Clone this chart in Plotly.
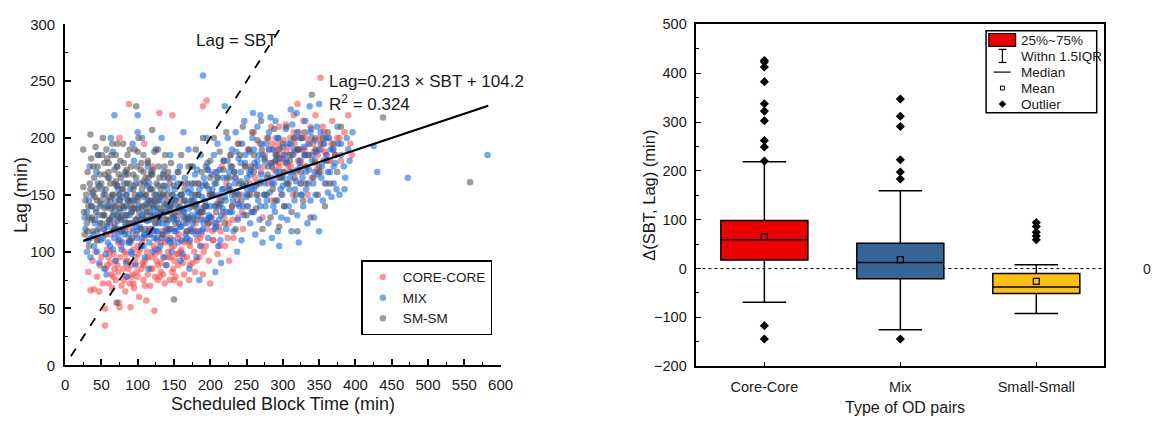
import plotly.graph_objects as go

W, H = 1157, 429
def px(x): return x / W
def py(y): return 1 - y / H

# ---------------- scatter data (SBT, Lag) ----------------
core_sbt = [32,35,38,40,42,44,45,47,48,50,52,53,55,55,56,58,60,62,63,64,65,67,68,70,72,73,74,75,75,71,
            76,78,79,80,82,83,84,85,86,88,88,89,90,90,92,93,94,95,96,97,98,100,101,102,104,105,106,108,109,110,111,112,113,114,116,117,118,119,120,121,122,123,124,125,
            126,127,128,130,130,131,132,134,135,136,137,138,140,141,142,143,144,145,146,148,148,149,150,151,152,154,155,156,157,158,160,161,162,163,164,166,167,168,170,171,172,174,175,
            176,178,179,180,182,183,185,187,188,190,190,192,194,195,196,198,200,200,202,204,206,208,210,212,214,216,218,220,222,225,228,230,232,235,238,240,242,245,248,250,226,
            252,255,258,260,262,265,268,270,272,275,278,280,282,284,285,287,288,290,291,292,294,295,296,298,300,301,302,304,305,306,308,310,312,314,315,316,318,320,321,322,324,326,328,330,332,334,335,338,340,342,344,345,348,350,352,352,355,358,360,362,365,368,370,375,380,385,390,393,395,
            58,62,66,69,73,77,81,84,87,91,94,97,99,103,107,110,114,118,121,124,128,132,135,139,143,147,151,155,159,163,167,171,176,181,186,191,197,203,208,213,219,224,231,237,244,253,262,274,281,286,293,297,303,307,311,317,323,327,331,337,343,347,353,357,363,367,372,378,
            60,68,76,84,92,100,108,116,124,132,140,148,156,164,172,180,188,196,204,212,70,90,110,130,150,170,190,285,300,315,330,345,360,295,325,355]
core_lag = [82,66,92,67,100,78,110,65,88,95,72,120,50,35,85,102,72,90,115,80,68,98,125,75,88,108,55,200,51,140,
            95,70,118,85,100,65,132,78,92,230,110,72,51,88,125,80,102,68,140,90,115,78,98,60,120,85,108,75,195,92,130,57,100,80,115,70,145,95,85,175,105,48,78,125,
            92,110,75,222,100,135,82,118,95,150,72,108,88,128,100,165,75,112,95,220,140,85,105,120,78,98,132,88,115,72,102,145,90,125,80,110,160,95,130,75,105,118,90,
            140,100,82,125,110,160,95,130,115,228,80,140,105,233,120,92,150,72,130,110,170,125,98,145,118,175,135,105,160,125,185,140,112,165,130,195,150,120,175,140,92,
            190,160,135,205,175,150,195,170,130,185,200,160,178,210,145,190,172,200,185,165,178,210,190,150,182,198,170,212,188,160,175,200,185,150,220,195,170,230,180,205,160,190,215,175,200,150,185,210,165,195,178,220,185,200,253,170,210,188,160,200,180,215,190,200,180,205,220,195,185,
            88,100,78,92,82,105,75,98,85,108,72,95,82,102,90,112,95,85,118,98,88,108,80,118,95,105,92,112,100,95,118,108,120,92,112,100,125,118,140,105,130,112,128,145,135,150,165,175,190,178,195,182,178,192,175,188,178,200,185,195,188,172,190,205,180,195,185,200,
            95,85,110,92,78,105,88,120,102,90,112,82,98,108,88,118,105,128,110,122,118,120,70,78,75,128,135,195,185,205,190,200,185,175,180,195]

mix_sbt = [28,30,32,33,35,36,38,40,42,44,45,47,48,50,30,34,46,27,39,43,
           52,53,55,56,58,60,61,62,64,65,66,68,69,70,72,73,74,75,57,63,71,54,
           76,78,79,80,82,83,84,86,87,88,90,91,92,94,95,96,98,99,100,100,85,93,97,81,
           101,103,104,105,107,108,109,110,112,113,114,116,117,118,120,121,122,124,125,106,115,119,123,
           126,127,128,130,131,132,134,135,136,137,138,140,141,142,144,145,146,147,148,150,133,139,149,
           151,152,154,155,156,157,158,160,161,162,164,165,166,168,169,170,172,173,174,175,163,171,159,
           176,178,179,180,182,183,184,186,187,188,190,190,191,193,194,196,197,198,200,185,195,181,
           201,202,204,205,206,208,209,210,212,213,214,216,217,218,220,220,222,223,224,215,207,211,
           226,227,228,230,231,232,234,235,236,238,239,240,242,243,244,245,246,248,250,237,247,
           251,252,254,255,256,257,258,260,261,262,264,265,266,267,268,270,271,272,274,275,259,269,
           276,277,278,280,281,282,284,285,286,288,289,290,291,292,294,295,296,297,298,300,293,283,
           301,302,304,305,306,308,309,310,312,313,314,316,317,318,320,321,322,324,325,311,319,
           326,327,328,330,331,332,334,335,336,338,339,340,342,343,344,345,346,348,350,350,337,
           352,354,355,357,358,360,362,364,365,367,369,370,372,374,376,378,380,384,388,392,396,386,
           425,430,472,582,
           35,37,41,44,46,49,51,54,57,59,61,63,66,67,69,71,73,76,77,79,81,83,85,87,89,91,93,95,97,99,
           102,104,106,108,110,111,113,115,117,119,121,123,125,127,129,131,133,135,137,139,141,143,145,147,149,
           151,153,155,157,159,161,163,165,167,169,171,173,175,177,179,181,183,185,187,189,191,193,195,197,199,
           203,206,209,212,215,218,221,224,227,230,233,236,239,242,245,248,251,254,257,260,263,266,269,272,275,278,
           281,284,287,290,293,296,299,302,305,308,311,314,317,320,323,326,329,332,335,338,341,344,347,350,353,356,359,362,366,370,375,380,385,390,
           62,65,68,72,75,78,82,86,90,94,98,102,106,110,114,118,122,126,130,134,138,142,146,150,154,158,162,166,170,174,
           178,182,186,190,194,198,202,206,210,214,218,222,226,230,234,238,242,246,250,255,260,265,270,275,280,285,290,295,300,305,
           310,315,320,325,330,88,108,128,148,168,188,208,116,136,156,176,196]
mix_lag = [120,135,110,145,95,128,150,105,138,118,160,90,125,142,100,175,185,130,115,170,
           112,132,150,98,122,140,165,105,130,118,188,220,145,92,127,155,110,138,80,200,175,85,
           120,102,148,132,115,168,90,140,125,108,155,135,98,118,180,145,128,112,205,220,78,195,88,160,
           138,122,150,105,130,162,115,95,142,127,175,108,135,155,120,100,145,132,190,200,85,168,112,
           140,118,158,128,105,148,135,115,170,95,142,125,155,110,138,185,120,100,150,132,200,88,165,
           118,145,128,160,108,138,175,122,150,98,135,165,115,142,128,190,110,155,132,145,205,85,92,
           125,160,140,115,172,132,150,105,185,138,255,120,165,145,128,178,112,155,140,75,200,95,
           130,168,150,185,120,160,142,195,128,172,110,155,138,180,228,148,120,165,200,90,82,105,
           158,135,175,190,145,118,165,205,152,128,182,140,170,110,195,158,132,178,150,100,215,
           165,140,188,125,172,155,200,135,178,115,160,210,145,185,128,168,195,108,150,180,222,220,
           140,195,165,125,205,152,178,112,190,160,135,215,170,145,200,105,182,155,130,192,118,218,
           165,140,208,178,128,195,155,170,118,212,185,145,200,162,132,190,108,175,150,225,222,
           200,165,140,185,215,155,125,195,172,145,208,180,160,130,198,150,188,168,118,230,228,
           205,175,145,195,160,185,152,200,170,148,190,160,178,155,195,150,185,175,200,180,205,165,
           193,170,165,185,
           112,140,125,100,132,110,155,120,140,108,128,148,102,135,122,158,115,145,130,108,138,122,150,115,132,100,145,125,160,118,
           140,128,112,148,135,120,158,128,115,142,130,150,118,135,125,145,112,132,158,120,140,128,108,145,130,
           155,118,140,125,150,110,135,145,125,160,138,120,150,130,168,142,118,155,135,148,125,160,140,172,130,
           155,140,170,150,132,165,145,180,155,135,170,188,150,162,140,185,155,170,135,190,158,175,140,185,160,145,
           190,165,140,180,200,165,150,185,160,140,195,170,155,205,180,150,192,170,160,205,185,170,210,190,165,180,200,170,190,175,210,195,155,190,
           125,140,112,132,150,118,128,145,110,138,122,150,132,115,145,128,138,112,150,125,135,118,142,128,148,122,138,130,152,118,
           145,135,128,158,140,132,150,125,165,142,155,135,170,150,160,142,178,158,148,168,155,180,162,150,175,160,185,170,158,180,
           165,190,172,160,185,108,105,102,110,112,118,122,160,165,170,175,172]

sm_sbt = [25,25,26,27,28,30,31,32,33,35,35,36,37,38,40,41,42,43,44,45,47,48,50,51,52,53,54,55,56,57,58,60,61,62,63,65,66,67,68,69,70,71,72,73,74,75,
          76,77,78,80,81,82,83,84,85,86,88,89,90,91,92,94,95,96,97,98,98,100,101,102,104,105,106,108,109,110,111,112,114,115,116,118,119,120,120,122,123,124,126,128,129,130,132,133,135,136,138,139,140,142,143,145,146,148,150,150,
          152,155,158,160,163,165,168,170,173,175,178,180,183,185,188,190,193,195,198,200,203,205,208,210,213,215,218,220,222,225,228,230,233,235,238,240,243,245,248,250,253,255,258,260,263,265,268,270,272,275,278,280,283,285,288,290,292,295,298,300,302,305,308,310,312,315,318,320,322,325,328,330,332,335,338,340,340,342,345,348,350,355,358,360,365,370,375,380,438,558,
          29,31,34,36,39,41,43,46,48,49,52,54,56,58,59,62,64,66,68,70,72,74,77,79,81,83,85,87,89,92,94,96,99,101,103,106,108,110,113,115,117,121,124,127,130,134,137,141,144,147,
          152,156,160,164,169,174,179,184,189,194,199,206,212,219,226,234,241,249,256,264,271,279,286,294,301,309,316,324,333,344,352,362,372,
          32,38,44,50,55,60,65,70,75,80,85,90,95,100,105,110,115,120,125,130,135,140,45,58,72,86,100,114,128,142,160,180,200,230,260,290,320,350]
sm_lag = [190,157,135,115,145,125,170,140,105,203,155,182,130,118,165,148,192,135,110,175,158,140,125,185,200,150,132,168,115,190,145,178,128,160,138,195,150,120,172,140,185,55,158,130,168,145,
          180,128,155,195,140,118,170,150,132,185,160,125,145,175,112,155,138,190,128,228,165,148,200,135,172,120,155,185,140,128,165,150,180,118,145,170,132,207,155,140,188,125,160,145,175,130,155,115,168,140,185,128,150,165,120,140,178,132,58,158,
          125,170,140,185,130,155,118,175,145,160,128,190,150,135,170,200,140,158,125,180,150,200,135,165,188,145,172,125,205,155,185,140,170,120,195,160,145,210,175,132,190,150,205,170,138,198,160,215,120,182,150,200,130,175,208,145,185,122,165,195,140,210,160,180,135,200,150,118,190,170,145,205,160,185,130,238,200,165,190,150,175,200,140,180,160,195,170,210,218,161,
          150,118,160,140,175,128,155,120,168,145,132,178,155,125,165,145,185,132,160,120,175,150,165,140,178,125,160,145,190,135,168,150,175,130,160,140,170,150,135,165,155,172,145,130,165,150,175,135,160,150,
          145,135,160,145,130,175,150,160,135,175,150,160,140,180,165,150,185,160,175,150,190,168,155,190,170,185,165,200,175,180,195,205,185,
          130,152,145,160,138,170,150,162,135,155,172,140,158,145,178,160,140,168,150,138,158,145,185,182,195,168,188,178,190,170,150,140,165,175,185,180,190,170]

# fitted line and identity line
ident_x = [8, 298]
ident_y = [8, 298]
fit_x = [25, 583]
fit_y = [109.5, 228.4]

# ---------------- box plot statistics ----------------
box_cats = ["Core-Core", "Mix", "Small-Small"]
box_q1 = [17.6, -21.0, -51.2]
box_median = [59.0, 12.4, -37.5]
box_q3 = [98.2, 51.7, -9.9]
box_low = [-68.9, -125.3, -91.9]
box_high = [218.8, 159.2, 7.8]
box_mean = [64.8, 18.3, -26.3]
box_colors = ["#ee0000", "#346798", "#fdc010"]
outliers_core = [425.9, 422.7, 412.8, 382.7, 337.5, 322.4, 302.7, 262.1, 249.0, 220.1, -116.8, -144.3]
outliers_mix = [347.3, 311.9, 290.9, 222.8, 197.8, 183.4, -144.3]
outliers_small = [94.3, 86.4, 74.6, 66.8, 58.9]

FONT = "Liberation Sans, Arial, sans-serif"
TXT = "#1a1a1a"

fig = go.Figure()

mk = dict(size=6.5, opacity=0.58, line=dict(width=0))
fig.add_trace(go.Scatter(x=core_sbt, y=core_lag, mode="markers", name="CORE-CORE",
                         marker=dict(color="rgb(250,75,75)", **mk), xaxis="x", yaxis="y", legend="legend"))
fig.add_trace(go.Scatter(x=mix_sbt, y=mix_lag, mode="markers", name="MIX",
                         marker=dict(color="rgb(20,105,220)", **mk), xaxis="x", yaxis="y", legend="legend"))
fig.add_trace(go.Scatter(x=sm_sbt, y=sm_lag, mode="markers", name="SM-SM",
                         marker=dict(color="rgb(85,85,85)", **mk), xaxis="x", yaxis="y", legend="legend"))
fig.add_trace(go.Scatter(x=ident_x, y=ident_y, mode="lines", showlegend=False,
                         line=dict(color="black", width=1.8, dash="dash"), xaxis="x", yaxis="y"))
fig.add_trace(go.Scatter(x=fit_x, y=fit_y, mode="lines", showlegend=False,
                         line=dict(color="black", width=2.2), xaxis="x", yaxis="y"))

for i, c in enumerate(box_cats):
    fig.add_trace(go.Box(x=[c], q1=[box_q1[i]], median=[box_median[i]], q3=[box_q3[i]],
                         lowerfence=[box_low[i]], upperfence=[box_high[i]],
                         fillcolor=box_colors[i], line=dict(color="black", width=1.5),
                         width=0.64, whiskerwidth=0.5, boxpoints=False, showlegend=False,
                         xaxis="x2", yaxis="y2"))

outs = [outliers_core, outliers_mix, outliers_small]
for i, c in enumerate(box_cats):
    fig.add_trace(go.Scatter(x=[c] * len(outs[i]), y=outs[i], mode="markers", showlegend=False,
                             marker=dict(symbol="diamond", size=7, color="black"),
                             xaxis="x2", yaxis="y2"))
fig.add_trace(go.Scatter(x=box_cats, y=box_mean, mode="markers", showlegend=False,
                         marker=dict(symbol="square-open", size=6, color="black", line=dict(width=1.2)),
                         xaxis="x2", yaxis="y2"))

axis_common = dict(showline=True, linecolor="black", showgrid=False, zeroline=False,
                   ticks="inside", tickcolor="black", tickfont=dict(size=15, color=TXT, family=FONT))
right_font = dict(size=14.5, color=TXT, family=FONT)

fig.update_layout(
    width=W, height=H, margin=dict(l=0, r=0, t=0, b=0),
    paper_bgcolor="white", plot_bgcolor="white",
    font=dict(family=FONT, color=TXT),
    xaxis=dict(domain=[px(62), px(504)], range=[0, 600], dtick=50, ticklen=6, tickwidth=1.5, linewidth=1.8,
               minor=dict(dtick=25, ticklen=3, ticks="inside", tickcolor="black", tickwidth=1.2),
               ticklabelstandoff=5, **axis_common),
    yaxis=dict(domain=[py(371), py(16)], range=[0, 300], dtick=50, ticklen=6, tickwidth=1.5, linewidth=1.8,
               minor=dict(dtick=25, ticklen=3, ticks="inside", tickcolor="black", tickwidth=1.2),
               ticklabelstandoff=5, **axis_common),
    xaxis2=dict(domain=[px(702.7), px(1116.7)], range=[-0.5, 2.5], type="category",
                categoryorder="array", categoryarray=box_cats, ticklen=5, tickwidth=1.2, linewidth=1.5,
                mirror=True, anchor="y2", ticklabelstandoff=7, **{**axis_common, "tickfont": right_font}),
    yaxis2=dict(domain=[py(372), py(16)], range=[-200, 500], dtick=100, ticklen=5, tickwidth=1.2, linewidth=1.5,
                minor=dict(dtick=50, ticklen=3, ticks="inside", tickcolor="black", tickwidth=1.2),
                mirror=True, anchor="x2", ticklabelstandoff=5, **{**axis_common, "tickfont": right_font}),
    legend=dict(x=px(362.7), y=py(261.7), xanchor="left", yanchor="top", bordercolor="black", borderwidth=1.5,
                bgcolor="white", font=dict(size=13.5, color=TXT, family=FONT), itemwidth=30, tracegroupgap=0),
)

# zero reference line on box plot
fig.add_shape(type="line", xref="x2 domain", x0=0, x1=1, yref="y2", y0=0, y1=0,
              line=dict(color="black", width=1, dash="dot"), layer="below")

ann = []
def txt(x, y, s, size, xanchor="left", textangle=0, xref="paper", yref="paper"):
    ann.append(dict(x=x, y=y, xref=xref, yref=yref, text=s, showarrow=False, xanchor=xanchor,
                    yanchor="middle", textangle=textangle, font=dict(size=size, color=TXT, family=FONT)))

txt(px(192.7), py(32.3), "Lag = SBT", 17)
txt(px(327.7), py(75.3), "Lag=0.213 × SBT + 104.2", 17)
txt(px(327.7), py(98.3), "R<sup>2</sup> = 0.324", 17)
txt(px(16.7), py(193.3), "Lag (min)", 18, xanchor="center", textangle=-90)
txt(px(283.3), py(411), "Scheduled Block Time (min)", 18, xanchor="center")
txt(px(655), py(194), "Δ(SBT, Lag) (min)", 16.5, xanchor="center", textangle=-90)
txt(px(914.7), py(415), "Type of OD pairs", 16, xanchor="center")
txt(px(1154), 0, "0", 14, yref="y2")

# right-hand legend (drawn)
legend_rows = ["25%~75%", "Withn 1.5IQR", "Median", "Mean", "Outlier"]
row_y = [32.3, 49, 65.7, 82.3, 99]
for s, yy in zip(legend_rows, row_y):
    txt(px(1030), py(yy), s, 13.5)
fig.update_layout(annotations=ann)

shapes = [
    dict(type="rect", xref="paper", yref="paper", x0=px(996.7), x1=px(1109), y0=py(108), y1=py(22.7),
         line=dict(color="black", width=1.5), fillcolor="rgba(0,0,0,0)"),
    dict(type="rect", xref="paper", yref="paper", x0=px(999.5), x1=px(1026.7), y0=py(39), y1=py(25.5),
         line=dict(color="black", width=1.2), fillcolor="#ee0000"),
    dict(type="line", xref="paper", yref="paper", x0=px(1013.3), x1=px(1013.3), y0=py(55.7), y1=py(42),
         line=dict(color="black", width=1.2)),
    dict(type="line", xref="paper", yref="paper", x0=px(1009.5), x1=px(1017.5), y0=py(42), y1=py(42),
         line=dict(color="black", width=1.2)),
    dict(type="line", xref="paper", yref="paper", x0=px(1009.5), x1=px(1017.5), y0=py(55.7), y1=py(55.7),
         line=dict(color="black", width=1.2)),
    dict(type="line", xref="paper", yref="paper", x0=px(1004.3), x1=px(1021.7), y0=py(65.7), y1=py(65.7),
         line=dict(color="black", width=1.2)),
    dict(type="rect", xref="paper", yref="paper", x0=px(1011.3), x1=px(1015.3), y0=py(84.3), y1=py(80.3),
         line=dict(color="black", width=1), fillcolor="white"),
    dict(type="path", xref="paper", yref="paper",
         path=f"M {px(1013.3)} {py(95.5)} L {px(1016.8)} {py(99)} L {px(1013.3)} {py(102.5)} L {px(1009.8)} {py(99)} Z",
         line=dict(color="black", width=0.5), fillcolor="black"),
]
for s in shapes:
    fig.add_shape(**s)

fig.write_html("out.html")
